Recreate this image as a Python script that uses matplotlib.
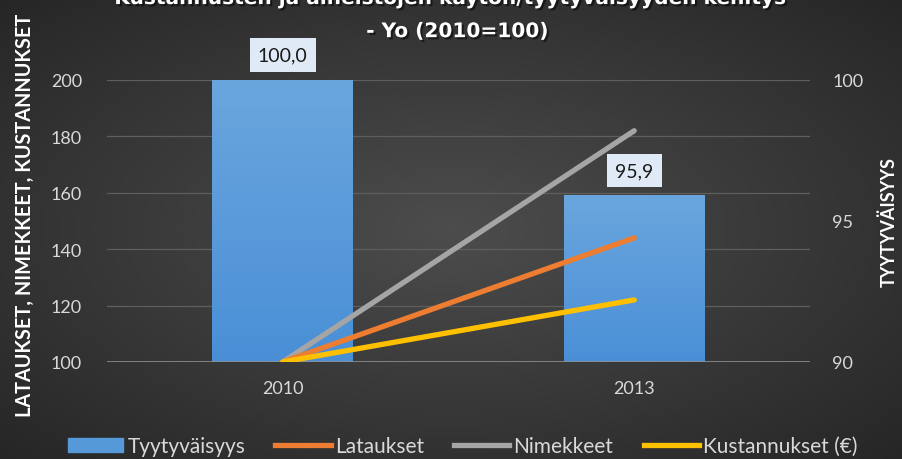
import numpy as np
import matplotlib.pyplot as plt
import matplotlib.patheffects as pe
from matplotlib.patches import Patch
from matplotlib.lines import Line2D
from matplotlib.colors import LinearSegmentedColormap

plt.rcParams['font.family'] = ['Lato', 'DejaVu Sans']

# data
years = ["2010", "2013"]
tyytyvaisyys = [100.0, 95.9]
lataukset = [100, 144]
nimekkeet = [100, 182]
kustannukset = [100, 122]
bar_labels = ["100,0", "95,9"]

txt = "#d9d9d9"
blue = "#5599d9"
orange = "#ed7d31"
grey = "#a5a5a5"
yellow = "#ffc000"

fig = plt.figure(figsize=(9.02, 4.60), dpi=100)

# dark radial background
bg = fig.add_axes([0, 0, 1, 1])
yy, xx = np.mgrid[0:1:230j, 0:1:450j]
r = np.sqrt(((xx - 0.5) / 0.5) ** 2 + ((yy - 0.5) / 0.5) ** 2) / np.sqrt(2)
v = np.clip(0.30 - 0.15 * r, 0, 1)
bg.imshow(np.dstack([v, v, v]), aspect="auto", extent=[0, 1, 0, 1],
          interpolation="bilinear")
bg.axis("off")

x = np.arange(len(years))
ax2 = fig.add_axes([0.1186, 0.211, 0.7794, 0.613])
ax = ax2.twinx()
ax.yaxis.tick_left()
ax.yaxis.set_label_position("left")
ax2.yaxis.tick_right()
ax2.yaxis.set_label_position("right")
ax.set_zorder(ax2.get_zorder() + 1)
ax.patch.set_visible(False)
ax2.patch.set_visible(False)

# bars on the right axis, with a soft vertical gradient
bars = ax2.bar(x, tyytyvaisyys, width=0.4, color="none", zorder=3)
grad = np.linspace(0, 1, 100).reshape(-1, 1)
bcmap = LinearSegmentedColormap.from_list("b", ["#4a8fd6", "#6aa6de"])
for b in bars:
    ax2.imshow(grad, cmap=bcmap, aspect="auto", origin="lower", zorder=3,
               extent=[b.get_x(), b.get_x() + b.get_width(), 90, b.get_height()])
ax2.set_ylim(90, 100)
ax2.set_yticks([90, 95, 100])
ax2.set_xlim(-0.5, 1.5)
for b, lab in zip(bars, bar_labels):
    ax2.annotate(lab, (b.get_x() + b.get_width() / 2, b.get_height()),
                 xytext=(0, 18), textcoords="offset points", ha="center", va="center",
                 fontsize=14, color="#1a1a1a",
                 bbox=dict(boxstyle="square,pad=0.42", fc="#e0eaf6", ec="none"))

# lines on the left axis
ax.plot(x, nimekkeet, color=grey, lw=3.8, solid_capstyle="round", zorder=4)
ax.plot(x, lataukset, color=orange, lw=3.8, solid_capstyle="round", zorder=4)
ax.plot(x, kustannukset, color=yellow, lw=3.8, solid_capstyle="round", zorder=4)
ax.set_ylim(100, 200)
ax.set_yticks(range(100, 201, 20))
ax.set_xlim(-0.5, 1.5)

for val in range(120, 201, 20):
    ax2.axhline(90 + (val - 100) / 10, color="#5e5e5e", lw=0.9, zorder=1)
ax.axhline(100, color="#8f8f8f", lw=1.2, zorder=2)

ax2.set_xticks(x)
ax2.set_xticklabels(years)
for a in (ax, ax2):
    for s in a.spines.values():
        s.set_visible(False)
    a.tick_params(length=0, colors=txt, labelsize=13)
ax.tick_params(axis="y", pad=18)
ax2.tick_params(axis="y", pad=16)
ax2.tick_params(axis="x", pad=13)

ax.set_ylabel("LATAUKSET, NIMEKKEET, KUSTANNUKSET", color="white",
              fontsize=14.3, fontweight="bold")
ax.yaxis.set_label_coords(-0.103, 0.525)
ax2.set_ylabel("TYYTYVÄISYYS", color="white", fontsize=13,
               fontweight="bold", labelpad=12)

shadow = [pe.withSimplePatchShadow(offset=(1.5, -1.5), shadow_rgbFace="black", alpha=0.5)]
fig.text(0.5, 0.989, "Kustannusten ja aineistojen käytön/tyytyväisyyden kehitys",
         ha="center", va="baseline", fontsize=14.5, fontweight="bold", color="white",
         family="DejaVu Sans", path_effects=shadow)
fig.text(0.507, 0.917, "- Yo (2010=100)", ha="center", va="baseline",
         fontsize=14.5, fontweight="bold", color="white", family="DejaVu Sans",
         path_effects=shadow)

handles = [Patch(color=blue),
           Line2D([], [], color=orange, lw=3.8),
           Line2D([], [], color=grey, lw=3.8),
           Line2D([], [], color=yellow, lw=3.8)]
labels = ["Tyytyväisyys", "Lataukset", "Nimekkeet", "Kustannukset (€)"]
fig.legend(handles, labels, loc="center", bbox_to_anchor=(0.513, 0.028), ncol=4,
           frameon=False, fontsize=15, labelcolor=txt, handlelength=2.65,
           handletextpad=0.2, columnspacing=1.45, borderpad=0)

fig.savefig("out.png", dpi=100)
